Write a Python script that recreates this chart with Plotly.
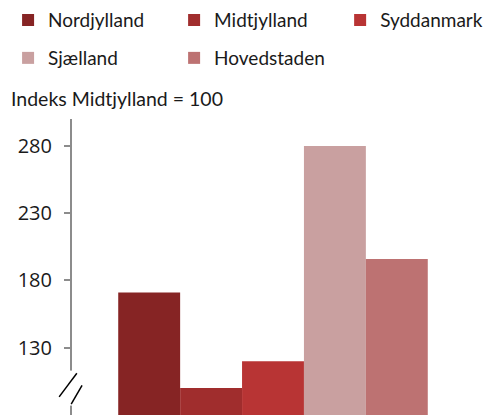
import plotly.graph_objects as go

# Indeks, Midtjylland = 100
regions = ["Nordjylland", "Midtjylland", "Syddanmark", "Sjælland", "Hovedstaden"]
values = [171, 100, 120, 280, 196]
colors = ["#862424", "#a02d2d", "#b83434", "#c9a0a0", "#bd7272"]
tick_vals = [130, 180, 230, 280]

FONT = "Lato"
TXT = "#1a1a1a"

# legend slots: (column, row) for each region
legend_pos = [(0, 0), (1, 0), (2, 0), (0, 1), (1, 1)]
col_x = [-0.159, 0.254, 0.667]
row_y = [1.334, 1.206]

fig = go.Figure()
legends = {}
for i, (name, val, col) in enumerate(zip(regions, values, colors)):
    key = "legend" if i == 0 else f"legend{i + 1}"
    fig.add_trace(go.Bar(x=[""], y=[val], name=name, marker_color=col,
                         marker_line_width=0, legend=key))
    c, r = legend_pos[i]
    legends[key] = dict(x=col_x[c], y=row_y[r], xanchor="left", yanchor="middle",
                        orientation="h",
                        font=dict(family=FONT, size=19, color=TXT),
                        bgcolor="rgba(0,0,0,0)", itemclick=False)

# page body has an 8px margin, so the figure is 8px smaller each way
fig.update_layout(
    width=483, height=407,
    margin=dict(l=64, r=17, t=111, b=0, autoexpand=False),
    paper_bgcolor="white", plot_bgcolor="white",
    barmode="group", bargap=0.23, bargroupgap=0,
    font=dict(family=FONT, color=TXT),
    showlegend=True,
    **legends,
)
fig.update_xaxes(showticklabels=False, showline=False, showgrid=False,
                 zeroline=False)
fig.update_yaxes(range=[80, 300], tickvals=tick_vals, showgrid=False,
                 zeroline=False, showline=True, linecolor="#8c8c8c",
                 linewidth=2, ticks="outside", ticklen=6, tickwidth=2,
                 tickcolor="#8c8c8c", ticklabelstandoff=8,
                 tickfont=dict(family="Open Sans", size=20, color=TXT))

# axis title
fig.add_annotation(text="Indeks Midtjylland = 100", xref="paper", yref="paper",
                   x=-0.157, y=1.07, xanchor="left", yanchor="middle",
                   showarrow=False, font=dict(family=FONT, size=19.5, color=TXT))

# axis break: gap in the axis line plus two slashes
fig.add_shape(type="rect", xref="paper", yref="y", x0=-0.02, x1=0.02,
              y0=87, y1=113, fillcolor="white", line_width=0, layer="above")
fig.add_shape(type="line", xref="paper", yref="y", x0=-0.032, x1=0.012,
              y0=93.5, y1=111, line=dict(color="black", width=1.5))
fig.add_shape(type="line", xref="paper", yref="y", x0=-0.002, x1=0.025,
              y0=88, y1=102, line=dict(color="black", width=1.5))

fig.write_html("out.html")
